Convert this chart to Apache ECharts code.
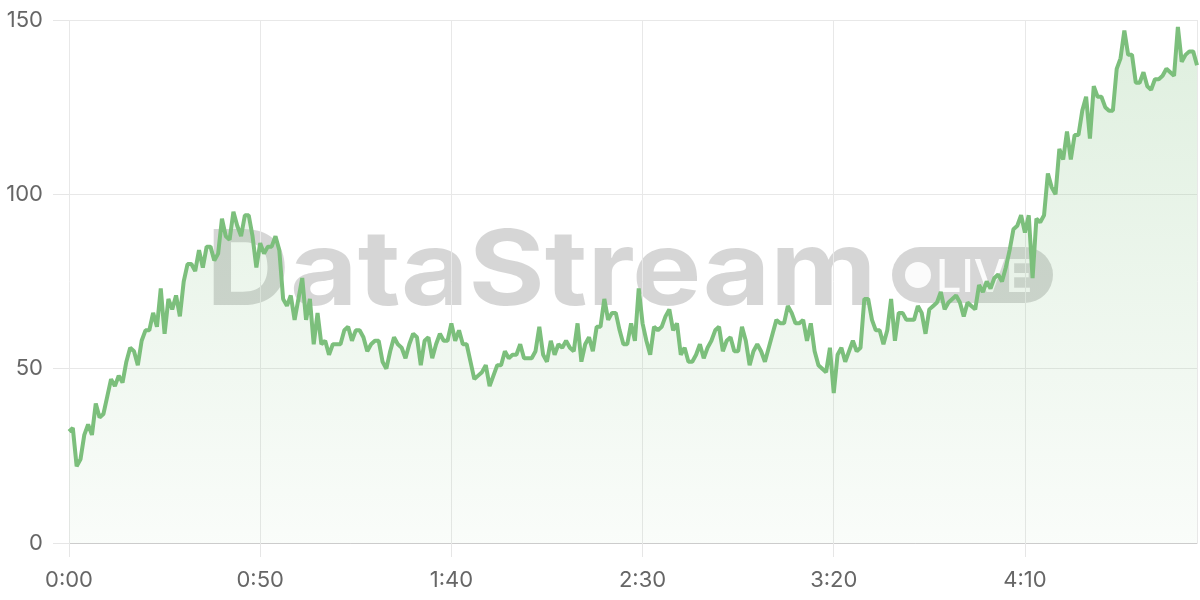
<!DOCTYPE html>
<html>
<head>
<meta charset="utf-8">
<script src="https://cdn.jsdelivr.net/npm/echarts@6/dist/echarts.min.js"></script>
<style>html,body{margin:0;padding:0;background:#fff}#c{width:1200px;height:600px}</style>
</head>
<body>
<div id="c"></div>
<script>
// seconds from start (one sample per second)
const seconds = Array.from({length: 296}, (_, i) => i);
// measured values
const values = [
32,33,22,24,31,34,31,40,36,37,
42,47,45,48,46,52,56,55,51,58,
61,61,66,62,73,60,70,67,71,65,
75,80,80,78,84,79,85,85,81,83,
93,88,87,95,91,88,94,94,88,79,
86,83,85,85,88,84,70,68,71,64,
70,76,64,70,57,66,57,58,54,57,
57,57,61,62,58,61,61,59,55,57,
58,58,52,50,55,59,57,56,53,57,
60,59,51,58,59,53,57,60,58,58,
63,58,61,57,57,52,47,48,49,51,
45,48,51,51,55,53,54,54,57,53,
53,53,55,62,54,52,58,54,57,56,
58,56,55,63,52,57,59,55,62,62,
70,64,66,66,61,57,57,63,58,73,
63,58,54,62,61,62,65,67,61,63,
54,56,52,52,54,57,53,56,58,61,
62,55,58,59,55,55,62,58,51,55,
57,55,52,56,60,64,63,63,68,66,
63,63,64,58,63,55,51,50,49,56,
43,54,56,52,55,58,55,56,70,70,
64,61,61,57,61,70,58,66,66,64,
64,64,68,66,60,67,68,69,72,67,
69,70,71,69,65,69,68,67,74,72,
75,73,76,77,75,79,84,90,91,94,
89,94,76,93,92,94,106,102,100,113,
110,118,110,117,117,124,128,116,131,128,
128,125,124,124,136,139,147,140,140,132,
132,135,131,130,133,133,134,136,135,134,
148,138,140,141,141,137
];
const yTicks = [0, 50, 100, 150];
const watermarkMain = 'DataStream';
const watermarkBadge = 'LIVE';

const data = seconds.map((s, i) => [s, values[i]]);
function fmt(v){ const m = Math.floor(v/60), s = Math.round(v%60); return m + ':' + (s<10?'0':'') + s; }

const chart = echarts.init(document.getElementById('c'), null, {renderer:'canvas'});
chart.setOption({
  animation: false,
  backgroundColor: '#fff',
  grid: {left: 69, right: 3, top: 20, bottom: 57, containLabel: false},
  graphic: [
    {type:'text', z: -1, x: 206, y: 222, scaleX: 1.12, style:{text: watermarkMain, fontFamily:'Inter', fontWeight:'bold', fontSize:104, fill:'rgba(0,0,0,0.16)', verticalAlign:'top'}},
    {type:'rect', z: -1, shape:{x:892, y:247, width:161, height:56, r:28}, style:{fill:'rgba(0,0,0,0.16)'}},
    {type:'circle', z: -1, shape:{cx:918, cy:275, r:13}, style:{fill:'rgba(255,255,255,0.9)'}},
    {type:'text', z: -1, x: 936, y: 256, style:{text: watermarkBadge, fontFamily:'Inter', fontWeight:500, fontSize:45, fill:'rgba(255,255,255,0.9)', verticalAlign:'top'}}
  ],
  xAxis: {
    type: 'value', min: 0, max: 295, interval: 50,
    axisLine: {show: true, lineStyle: {color: '#ccc'}},
    axisTick: {show: true, length: 14, lineStyle: {color: '#e6e6e6'}},
    splitLine: {show: true, lineStyle: {color: '#e8e8e8'}},
    axisLabel: {formatter: fmt, color: '#666', fontSize: 22, fontFamily: 'Inter', margin: 26, showMaxLabel: false}
  },
  yAxis: {
    type: 'value', min: yTicks[0], max: yTicks[yTicks.length-1], interval: 50,
    axisLine: {show: false},
    axisTick: {show: true, length: 16, lineStyle: {color: '#e6e6e6'}},
    splitLine: {show: true, lineStyle: {color: '#e8e8e8'}},
    axisLabel: {color: '#666', fontSize: 22, fontFamily: 'Inter', margin: 26}
  },
  series: [{
    type: 'line', data: data, showSymbol: false, smooth: false,
    lineStyle: {color: '#7cbf7c', width: 4},
    itemStyle: {color: '#7cbf7c'},
    areaStyle: {color: new echarts.graphic.LinearGradient(0,0,0,1,[
      {offset:0, color:'rgba(124,191,124,0.35)'},
      {offset:1, color:'rgba(124,191,124,0.06)'}
    ])}
  }]
});
</script>
</body>
</html>
